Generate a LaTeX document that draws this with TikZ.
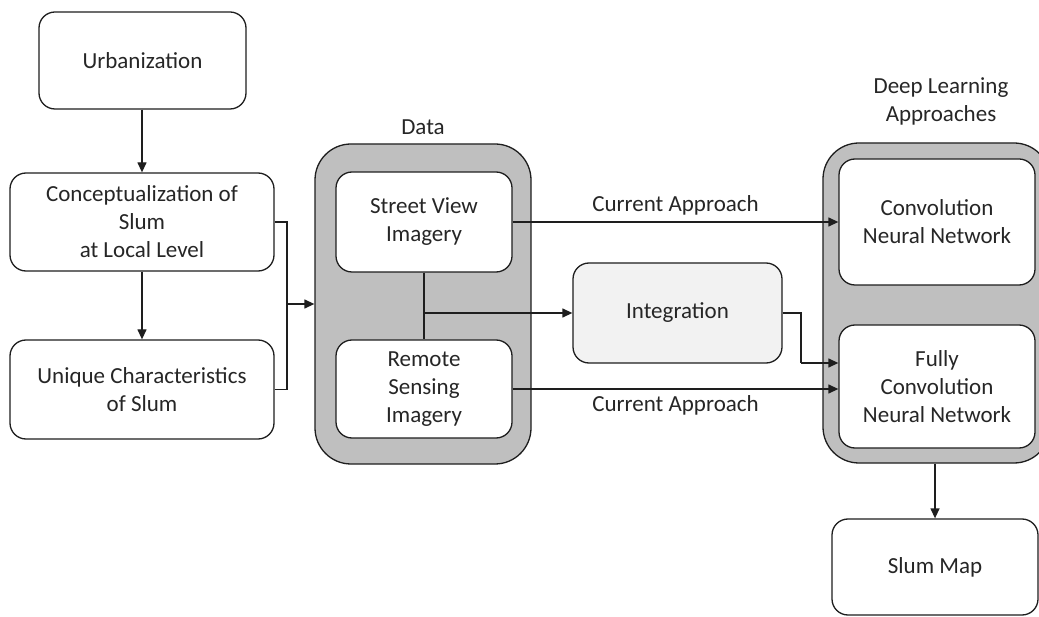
\documentclass[tikz,border=0pt]{standalone}
\usepackage{fontspec}
\setmainfont{Carlito}
\usetikzlibrary{arrows.meta,positioning}
\definecolor{linec}{HTML}{1E1E1E}
\definecolor{textc}{HTML}{262626}
\definecolor{panelgray}{HTML}{BFBFBF}
\definecolor{softgray}{HTML}{F2F2F2}
\begin{document}
\begin{tikzpicture}[x=1pt,y=-1pt,
  font=\fontsize{23}{28}\selectfont,
  every node/.style={text=textc},
  box/.style={draw=linec, line width=1.3pt, rounded corners=16pt, fill=white,
    align=center, inner sep=0pt},
  panel/.style={draw=linec, line width=1.3pt, rounded corners=36pt, fill=panelgray,
    inner sep=0pt},
  wire/.style={draw=linec, line width=1.3pt},
  arr/.style={wire, -{Triangle[length=10pt,width=9pt]}},
  lbl/.style={align=center, inner sep=0pt}]
\clip (0,0) rectangle (1039,617);
\fill[white] (0,0) rectangle (1039,617);

% left column
\node[box, minimum width=207pt, minimum height=97pt] (urb) at (142.5,60.5) {Urbanization};
\node[box, minimum width=264pt, minimum height=98pt] (concept) at (142,222)
  {Conceptualization of\\Slum\\at Local Level};
\node[box, minimum width=264pt, minimum height=99pt] (unique) at (142,389.5)
  {Unique Characteristics\\of Slum};

% data panel
\node[panel, minimum width=216pt, minimum height=320pt] (data) at (423,304) {};
\node[lbl] (datalbl) at (423,127) {Data};
\node[box, minimum width=176pt, minimum height=100pt] (street) at (424,222)
  {Street View\\Imagery};
\node[box, minimum width=176pt, minimum height=98pt] (remote) at (424,389)
  {Remote\\Sensing\\Imagery};

% integration
\node[box, fill=softgray, minimum width=209pt, minimum height=100pt] (integ) at (677.5,313)
  {Integration};

% deep learning panel
\node[panel, minimum width=227pt, minimum height=320pt] (dl) at (936.5,303) {};
\node[lbl] (dllbl) at (941,101) {Deep Learning\\Approaches};
\node[box, minimum width=196pt, minimum height=126pt] (cnn) at (937,222)
  {Convolution\\Neural Network};
\node[box, minimum width=196pt, minimum height=123pt] (fcn) at (937,386.5)
  {Fully\\Convolution\\Neural Network};

% output
\node[box, minimum width=206pt, minimum height=96pt] (slum) at (935,567) {Slum Map};

% connectors on the left
\draw[arr] (concept.north |- urb.south) -- (concept.north);
\draw[arr] (concept.south) -- (unique.north);
\coordinate (jn) at (287,304);
\draw[wire] (concept.east) -| (jn);
\draw[wire] (unique.east) -| (jn);
\draw[arr] (jn) -- (data.west);

% data to networks
\draw[arr] (street.east) -- node[lbl, above=6pt] (ca1) {Current Approach} (street.east -| cnn.west);
\draw[arr] (remote.east) -- node[lbl, below=6pt] (ca2) {Current Approach} (remote.east -| fcn.west);

% integration branch
\coordinate (tj) at (424,313);
\draw[wire] (street.south) -- (remote.north);
\draw[arr] (tj) -- (integ.west);
\coordinate (ib) at (801,363);
\draw[wire] (integ.east) -| (ib);
\draw[arr] (ib) -- (ib -| fcn.west);

% to the map
\draw[arr] (dl.south -| slum.north) -- (slum.north);
\end{tikzpicture}
\end{document}
